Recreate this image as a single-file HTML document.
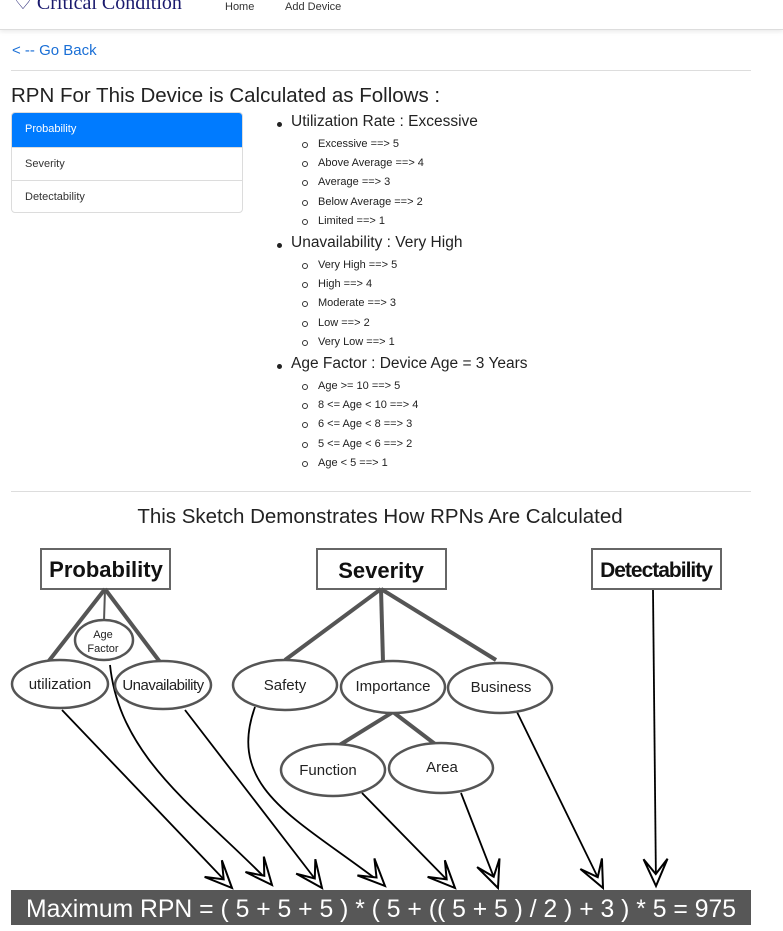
<!DOCTYPE html>
<html><head><meta charset="utf-8"><style>
*{margin:0;padding:0;box-sizing:border-box}
body{width:783px;height:931px;background:#fff;font-family:"Liberation Sans","DejaVu Sans",sans-serif;color:#212529;position:relative;overflow:hidden}
.a{position:absolute;white-space:nowrap}
.nav{position:absolute;left:0;top:0;width:783px;height:30px;border-bottom:1px solid #ddd;box-shadow:0 2px 4px rgba(0,0,0,.08)}
.lg{position:absolute;left:11px;top:112px;width:232px;height:101px;border:1px solid #dcdcdc;border-radius:4px;overflow:hidden}
.lg div{height:33px;line-height:33px;padding-left:13px;font-size:11px;border-top:1px solid #dcdcdc;color:#333}
.lg div.act{background:#007bff;color:#fff;border-top:none;height:34px}
.h{font-size:15.5px;color:#222}
.s{font-size:11px;color:#222}
.dot{position:absolute;width:5px;height:5px;border-radius:50%;background:#222}
.c{position:absolute;width:6px;height:6px;border-radius:50%;border:1px solid #333}
</style></head><body>
<div class="nav"></div>
<div class="a" style="left:14px;top:-10px;font-family:'Liberation Serif',serif;font-size:20px;color:#1a1a6e">♡ Critical Condition</div>
<div class="a" style="left:225px;top:1px;font-size:11px;color:#333">Home</div>
<div class="a" style="left:285px;top:1px;font-size:11px;color:#333">Add Device</div>
<div class="a" style="left:12px;top:42px;font-size:15px;color:#1a6fd6">&lt; -- Go Back</div>
<div class="a" style="left:11px;top:70px;width:740px;border-top:1px solid #ddd"></div>
<div class="a" style="left:11px;top:84px;font-size:20.5px;color:#222">RPN For This Device is Calculated as Follows :</div>
<div class="lg"><div class="act">Probability</div><div>Severity</div><div>Detectability</div></div>

<div class="dot" style="left:277px;top:122px"></div><div class="a h" style="left:291px;top:113px">Utilization Rate : Excessive</div>
<div class="c" style="left:302px;top:142px"></div><div class="a s" style="left:318px;top:138px">Excessive ==&gt; 5</div>
<div class="c" style="left:302px;top:161px"></div><div class="a s" style="left:318px;top:157px">Above Average ==&gt; 4</div>
<div class="c" style="left:302px;top:180px"></div><div class="a s" style="left:318px;top:176px">Average ==&gt; 3</div>
<div class="c" style="left:302px;top:200px"></div><div class="a s" style="left:318px;top:196px">Below Average ==&gt; 2</div>
<div class="c" style="left:302px;top:219px"></div><div class="a s" style="left:318px;top:215px">Limited ==&gt; 1</div>

<div class="dot" style="left:277px;top:243px"></div><div class="a h" style="left:291px;top:234px">Unavailability : Very High</div>
<div class="c" style="left:302px;top:263px"></div><div class="a s" style="left:318px;top:259px">Very High ==&gt; 5</div>
<div class="c" style="left:302px;top:282px"></div><div class="a s" style="left:318px;top:278px">High ==&gt; 4</div>
<div class="c" style="left:302px;top:301px"></div><div class="a s" style="left:318px;top:297px">Moderate ==&gt; 3</div>
<div class="c" style="left:302px;top:321px"></div><div class="a s" style="left:318px;top:317px">Low ==&gt; 2</div>
<div class="c" style="left:302px;top:340px"></div><div class="a s" style="left:318px;top:336px">Very Low ==&gt; 1</div>

<div class="dot" style="left:277px;top:364px"></div><div class="a h" style="left:291px;top:355px">Age Factor : Device Age = 3 Years</div>
<div class="c" style="left:302px;top:384px"></div><div class="a s" style="left:318px;top:380px">Age &gt;= 10 ==&gt; 5</div>
<div class="c" style="left:302px;top:403px"></div><div class="a s" style="left:318px;top:399px">8 &lt;= Age &lt; 10 ==&gt; 4</div>
<div class="c" style="left:302px;top:422px"></div><div class="a s" style="left:318px;top:418px">6 &lt;= Age &lt; 8 ==&gt; 3</div>
<div class="c" style="left:302px;top:442px"></div><div class="a s" style="left:318px;top:438px">5 &lt;= Age &lt; 6 ==&gt; 2</div>
<div class="c" style="left:302px;top:461px"></div><div class="a s" style="left:318px;top:457px">Age &lt; 5 ==&gt; 1</div>

<div class="a" style="left:11px;top:491px;width:740px;border-top:1px solid #ddd"></div>
<div class="a" style="left:0;width:760px;text-align:center;top:505px;font-size:20.5px;color:#222">This Sketch Demonstrates How RPNs Are Calculated</div>

<svg class="a" style="left:0;top:0" width="783" height="931">
<defs><polygon id="ah" points="0,0 -12,-27 0,-12 12,-27" fill="#fff" stroke="#000" stroke-width="2" stroke-linejoin="miter"/></defs>
<g fill="#fff" stroke="#666" stroke-width="2">
<rect x="41" y="549" width="129" height="40"/>
<rect x="317" y="549" width="129" height="40"/>
<rect x="592" y="549" width="129" height="40"/>
</g>
<g stroke="#555" stroke-width="4" fill="none">
<line x1="105" y1="589" x2="48" y2="662"/><line x1="105" y1="589" x2="160" y2="662"/>
<line x1="381" y1="589" x2="285" y2="660"/><line x1="381" y1="589" x2="383" y2="662"/><line x1="381" y1="589" x2="496" y2="660"/>
<line x1="393" y1="712" x2="338" y2="746"/><line x1="393" y1="712" x2="435" y2="744"/>
</g>
<line x1="105" y1="589" x2="104" y2="621" stroke="#555" stroke-width="2"/>
<g stroke="#000" stroke-width="1.8" fill="none">
<line x1="62" y1="710" x2="232" y2="888"/>
<path d="M110 665 C 120 760, 200 810, 272 885"/>
<line x1="185" y1="710" x2="322" y2="888"/>
<path d="M255 707 C 225 790, 300 820, 385 886"/>
<line x1="362" y1="793" x2="455" y2="888"/>
<line x1="461" y1="793" x2="498" y2="888"/>
<line x1="517" y1="712" x2="603" y2="888"/>
<line x1="653" y1="590" x2="656" y2="886"/>
</g>
<use href="#ah" transform="translate(232,888) rotate(-44)"/>
<use href="#ah" transform="translate(272,885) rotate(-40)"/>
<use href="#ah" transform="translate(322,888) rotate(-37)"/>
<use href="#ah" transform="translate(385,886) rotate(-45)"/>
<use href="#ah" transform="translate(455,888) rotate(-44)"/>
<use href="#ah" transform="translate(498,888) rotate(-21)"/>
<use href="#ah" transform="translate(603,888) rotate(-26)"/>
<use href="#ah" transform="translate(656,886) rotate(-1)"/>
<g fill="#fff" stroke="#555" stroke-width="2.5">
<ellipse cx="60" cy="684" rx="48" ry="24"/>
<ellipse cx="104" cy="640" rx="29" ry="20"/>
<ellipse cx="163" cy="685" rx="48" ry="24"/>
<ellipse cx="285" cy="685" rx="52" ry="25"/>
<ellipse cx="393" cy="687" rx="52" ry="26"/>
<ellipse cx="500" cy="688" rx="52" ry="25"/>
<ellipse cx="333" cy="770" rx="52" ry="26"/>
<ellipse cx="441" cy="768" rx="52" ry="25"/>
</g>
<g font-family="Liberation Sans,sans-serif" fill="#222" text-anchor="middle">
<text x="106" y="577" font-size="22" font-weight="bold" fill="#111">Probability</text>
<text x="381" y="578" font-size="22" font-weight="bold" fill="#111">Severity</text>
<text x="656" y="577" font-size="21" font-weight="bold" fill="#111" letter-spacing="-1">Detectability</text>
<text x="60" y="689" font-size="15">utilization</text>
<text x="103" y="638" font-size="11">Age</text>
<text x="103" y="652" font-size="11">Factor</text>
<text x="163" y="690" font-size="15" letter-spacing="-0.5">Unavailability</text>
<text x="285" y="690" font-size="15">Safety</text>
<text x="393" y="691" font-size="15">Importance</text>
<text x="501" y="692" font-size="15">Business</text>
<text x="328" y="775" font-size="15">Function</text>
<text x="442" y="772" font-size="15">Area</text>
</g>
<rect x="11" y="890" width="740" height="35" fill="#575757"/>
<text x="381" y="917" text-anchor="middle" fill="#fff" font-family="Liberation Sans Narrow,Liberation Sans,sans-serif" font-size="25" textLength="710" lengthAdjust="spacingAndGlyphs">Maximum RPN = ( 5 + 5 + 5 ) * ( 5 + (( 5 + 5 ) / 2 ) + 3 ) * 5 = 975</text>
</svg>
</body></html>
